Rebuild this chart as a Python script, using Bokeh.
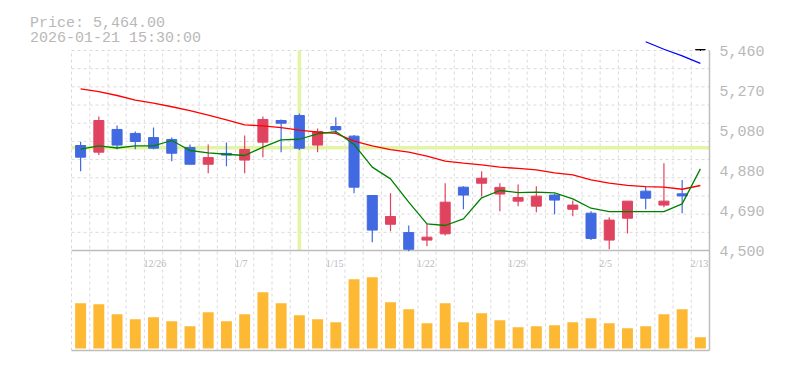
import numpy as np
from bokeh.plotting import figure
from bokeh.models import (ColumnDataSource, Range1d, LinearAxis, FixedTicker,
                          Label, LabelSet, Grid)
from bokeh.embed import file_html
from bokeh.resources import INLINE

# ---------------- data ----------------
dates = ["12/22", "12/23", "12/24", "12/25", "12/26", "12/29", "12/30",
         "1/5", "1/6", "1/7", "1/8", "1/9", "1/13", "1/14", "1/15", "1/16",
         "1/19", "1/20", "1/21", "1/22", "1/23", "1/26", "1/27", "1/28",
         "1/29", "1/30", "2/2", "2/3", "2/4", "2/5", "2/6", "2/9", "2/10",
         "2/12", "2/13"]
opens = [5004, 4972, 5081, 5062, 5042, 5033, 4994, 4914, 4966, 4934, 5020,
         5124, 5148, 5006, 5095, 5049, 4764, 4626, 4586, 4550, 4580, 4804,
         4823, 4771, 4737, 4713, 4766, 4698, 4679, 4550, 4655, 4785, 4718,
         4772, 5464]
highs = [5022, 5143, 5100, 5071, 5090, 5042, 5009, 5009, 5018, 5052, 5143,
         5129, 5158, 5086, 5140, 5054, 4764, 4775, 4620, 4630, 4823, 4809,
         4881, 4823, 4817, 4809, 4772, 4740, 4689, 4660, 4737, 4806, 4919,
         4839, 5464]
lows = [4881, 4958, 4986, 4986, 4986, 4929, 4914, 4871, 4905, 4871, 4948,
        4972, 4982, 4972, 5060, 4775, 4540, 4593, 4497, 4521, 4572, 4698,
        4759, 4689, 4713, 4684, 4674, 4665, 4551, 4506, 4582, 4698, 4708,
        4679, 5458]
closes = [4948, 5124, 5006, 5023, 4991, 4967, 4914, 4946, 4958, 4985, 5129,
          5111, 4991, 5071, 5079, 4804, 4598, 4663, 4506, 4564, 4732, 4766,
          4847, 4803, 4754, 4761, 4742, 4718, 4558, 4646, 4737, 4751, 4737,
          4762, 5464]
volumes = [453, 443, 343, 293, 313, 273, 223, 363, 273, 343, 563, 453, 333,
           293, 263, 693, 713, 463, 393, 253, 453, 263, 353, 283, 213, 223,
           233, 263, 303, 253, 203, 223, 343, 393, 113]
ma5 = [4987, 5002, 4992, 5002, 5002, 5028, 4980, 4969, 4962, 4956, 4996,
       5031, 5034, 5060, 5071, 5009, 4900, 4844, 4732, 4628, 4620, 4652,
       4753, 4788, 4778, 4780, 4777, 4748, 4703, 4687, 4687, 4687, 4687,
       4724, 4892]
ma25 = [5276, 5263, 5244, 5222, 5207, 5190, 5171, 5150, 5127, 5103, 5098,
        5090, 5078, 5068, 5062, 5025, 5002, 4984, 4972, 4953, 4929, 4919,
        4911, 4900, 4894, 4887, 4873, 4863, 4839, 4823, 4813, 4807, 4804,
        4794, 4812]
ma75_idx = [31, 32, 33, 34]
ma75 = [5502, 5466, 5434, 5398]
price_ticks = [4500, 4692, 4884, 5076, 5268, 5460]
price_tick_labels = ["4,500", "4,690", "4,880", "5,080", "5,270", "5,460"]
date_every = 5
cross_idx = 12
cross_price = 4993
header_price = "Price: 5,464.00"
header_time = "2026-01-21 15:30:00"

# ---------------- layout (canvas pixels) ----------------
W, H = 769, 354
FRAME_R, FRAME_B = 709, 352
SLOT_L = 71
PRICE_TOP_PX, PRICE_BOT_PX, VOL_BOT_PX, VOL_BASE_PX = 50, 250, 350, 348

n = len(dates)
x = np.arange(n)
slot_px = (FRAME_R - SLOT_L) / n
x_start = -0.5 - SLOT_L / slot_px
pmin, pmax = price_ticks[0], price_ticks[-1]
pxu = (PRICE_BOT_PX - PRICE_TOP_PX) / (pmax - pmin)
y_start = pmin - (FRAME_B - PRICE_BOT_PX) / pxu
y_end = pmax + PRICE_TOP_PX / pxu
vol_floor = pmin - (VOL_BOT_PX - PRICE_BOT_PX) / pxu
vpu = 0.1
v_start = -(FRAME_B - VOL_BASE_PX) / vpu
v_end = VOL_BASE_PX / vpu

GRID = "#dadada"
AXIS = "#bdbdbd"
TEXT = "#b8b8b8"
UP = "#E0435F"
DOWN = "#4169E1"
FONT = "Liberation Mono"

p = figure(width=W, height=H, x_range=Range1d(x_start, n - 0.5),
           y_range=Range1d(y_start, y_end), output_backend="svg",
           toolbar_location=None, x_axis_location=None, y_axis_location=None,
           min_border_left=0, min_border_right=W - FRAME_R,
           min_border_top=0, min_border_bottom=H - FRAME_B,
           outline_line_color=None, background_fill_color="white",
           border_fill_color="white")
p.center = [r for r in p.center if not isinstance(r, Grid)]
p.extra_y_ranges = {"vol": Range1d(v_start, v_end)}

# grid
gx = np.arange(n + 1) - 0.5
p.segment(x0=gx, y0=vol_floor, x1=gx, y1=pmax, line_color=GRID,
          line_dash="3 3", line_width=1)
gy = np.linspace(pmin, pmax, 12)[1:]
p.segment(x0=-0.5, y0=gy, x1=n - 0.5, y1=gy, line_color=GRID,
          line_dash="3 3", line_width=1)

# crosshair
p.segment(x0=[cross_idx, -0.5], y0=[pmin, cross_price],
          x1=[cross_idx, n - 0.5], y1=[pmax, cross_price],
          line_color="#e3f5a5", line_width=3.5)

# volume
p.vbar(x=x, top=volumes, bottom=0, width=0.6, y_range_name="vol",
       fill_color="#FDB933", line_color=None)

# panel lines
p.segment(x0=-0.5, y0=[pmin, vol_floor], x1=n - 0.5, y1=[pmin, vol_floor],
          line_color=AXIS, line_width=1.5)

# candles
colors = [UP if c > o else (DOWN if c < o else "black")
          for o, c in zip(opens, closes)]
src = ColumnDataSource(dict(
    x=x, high=highs, low=lows,
    top=[max(o, c) for o, c in zip(opens, closes)],
    bottom=[min(o, c) for o, c in zip(opens, closes)],
    color=colors))
p.segment(x0="x", y0="high", x1="x", y1="low", line_color="color",
          line_width=1.2, source=src)
p.vbar(x="x", top="top", bottom="bottom", width=0.55, fill_color="color",
       line_color="color", line_width=1, source=src)

# moving averages
p.line(x, ma25, line_color="#ff0000", line_width=1.3)
p.line(x, ma5, line_color="#008000", line_width=1.3)
p.line(ma75_idx, ma75, line_color="#0000ff", line_width=1.3)

yaxis = LinearAxis(ticker=FixedTicker(ticks=price_ticks),
                   major_label_overrides=dict(zip(price_ticks, price_tick_labels)),
                   bounds=(vol_floor, pmax), axis_line_color=AXIS,
                   axis_line_width=1.5, major_tick_line_color=None,
                   minor_tick_line_color=None, major_tick_out=0,
                   major_tick_in=0, major_label_standoff=10,
                   major_label_text_font=FONT,
                   major_label_text_font_size="15px",
                   major_label_text_color=TEXT)
p.add_layout(yaxis, "right")

# date labels
lab_idx = sorted(range(n - 1, -1, -date_every))
date_src = ColumnDataSource(dict(
    x=[i - 10 / slot_px for i in lab_idx],
    y=[pmin - (266.5 - PRICE_BOT_PX) / pxu] * len(lab_idx),
    text=[dates[i] for i in lab_idx]))
p.add_layout(LabelSet(x="x", y="y", text="text", source=date_src,
                      text_font=FONT, text_font_size="10px",
                      text_color=TEXT, text_align="left",
                      text_baseline="alphabetic"))

# header
hx = -0.5 - (SLOT_L - 29.5) / slot_px
for txt, base in ((header_price, 23.3), (header_time, 37.7)):
    p.add_layout(Label(x=hx, y=pmax + (PRICE_TOP_PX - base) / pxu, text=txt,
                       text_font=FONT, text_font_size="15px",
                       text_color=TEXT, text_align="left",
                       text_baseline="alphabetic"))

open("out.html", "w").write(file_html(p, INLINE))
